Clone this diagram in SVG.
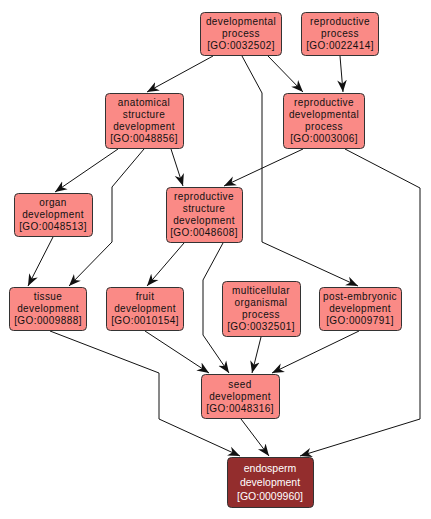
<svg xmlns="http://www.w3.org/2000/svg" width="431" height="519" viewBox="0 0 431 519">
<style>
.n rect{fill:#fa8a86;stroke:#333;stroke-width:1}
.n text{font-family:"Liberation Sans",Arial,sans-serif;font-size:10px;letter-spacing:0.4px;fill:#111;text-anchor:middle}
.d rect{fill:#932d2d;stroke:#333;stroke-width:1}
.d text{font-family:"Liberation Sans",Arial,sans-serif;font-size:10.5px;fill:#fff;text-anchor:middle}
.e path{fill:none;stroke:#111;stroke-width:1;marker-end:url(#a)}
</style>
<defs>
<marker id="a" markerUnits="userSpaceOnUse" markerWidth="12" markerHeight="12" viewBox="0 0 10 8" refX="10" refY="4" orient="auto">
<path d="M0,0 L10,4 L0,8 L3,4 z" fill="#111"/>
</marker>
</defs>
<g class="e" id="edges">
<path d="M213,56 L147,92"/>
<path d="M242,56 L262,93 L262,242 L358,286"/>
<path d="M268,56 L303,92"/>
<path d="M340,56 L343,92"/>
<path d="M118,149 L55,192"/>
<path d="M144,149 L112,187 L112,242 L69,286"/>
<path d="M171,149 L183,186"/>
<path d="M303,149 L224,186"/>
<path d="M345,149 L420,188 L420,419 L300,456"/>
<path d="M53,237 L28,286"/>
<path d="M184,243 L147,286"/>
<path d="M223,243 L203,280 L203,335 L229,373"/>
<path d="M50,331 L159,373 L159,419 L240,456"/>
<path d="M145,331 L209,373"/>
<path d="M261,337 L252,373"/>
<path d="M359,331 L272,373"/>
<path d="M241,419 L269,456"/>
</g>
<g class="n" id="GO0032502"><rect x="200.5" y="12.5" width="81" height="43" rx="4"/><text x="241" y="25">developmental</text><text x="241" y="37">process</text><text x="241" y="49">[GO:0032502]</text></g>
<g class="n" id="GO0022414"><rect x="301.5" y="12.5" width="77" height="43" rx="4"/><text x="340" y="25">reproductive</text><text x="340" y="37">process</text><text x="340" y="49">[GO:0022414]</text></g>
<g class="n" id="GO0048856"><rect x="105.5" y="93.5" width="78" height="55" rx="4"/><text x="144" y="106">anatomical</text><text x="144" y="118">structure</text><text x="144" y="130">development</text><text x="144" y="142">[GO:0048856]</text></g>
<g class="n" id="GO0003006"><rect x="283.5" y="93.5" width="81" height="55" rx="4"/><text x="324" y="106">reproductive</text><text x="324" y="118">developmental</text><text x="324" y="130">process</text><text x="324" y="142">[GO:0003006]</text></g>
<g class="n" id="GO0048513"><rect x="14.5" y="193.5" width="78" height="43" rx="4"/><text x="53" y="206">organ</text><text x="53" y="218">development</text><text x="53" y="230">[GO:0048513]</text></g>
<g class="n" id="GO0048608"><rect x="166.5" y="187.5" width="76" height="55" rx="4"/><text x="204" y="200">reproductive</text><text x="204" y="212">structure</text><text x="204" y="224">development</text><text x="204" y="236">[GO:0048608]</text></g>
<g class="n" id="GO0009888"><rect x="9.5" y="287.5" width="77" height="43" rx="4"/><text x="48" y="300">tissue</text><text x="48" y="312">development</text><text x="48" y="324">[GO:0009888]</text></g>
<g class="n" id="GO0010154"><rect x="106.5" y="287.5" width="77" height="43" rx="4"/><text x="145" y="300">fruit</text><text x="145" y="312">development</text><text x="145" y="324">[GO:0010154]</text></g>
<g class="n" id="GO0032501"><rect x="222.5" y="281.5" width="78" height="55" rx="4"/><text x="261" y="294">multicellular</text><text x="261" y="306">organismal</text><text x="261" y="318">process</text><text x="261" y="330">[GO:0032501]</text></g>
<g class="n" id="GO0009791"><rect x="319.5" y="287.5" width="82" height="43" rx="4"/><text x="360" y="300">post-embryonic</text><text x="360" y="312">development</text><text x="360" y="324">[GO:0009791]</text></g>
<g class="n" id="GO0048316"><rect x="201.5" y="374.5" width="78" height="44" rx="4"/><text x="240" y="388">seed</text><text x="240" y="400">development</text><text x="240" y="412">[GO:0048316]</text></g>
<g class="d" id="GO0009960"><rect x="227.5" y="457.5" width="86" height="50" rx="4"/><text x="270" y="472">endosperm</text><text x="270" y="486">development</text><text x="270" y="500">[GO:0009960]</text></g>
</svg>
